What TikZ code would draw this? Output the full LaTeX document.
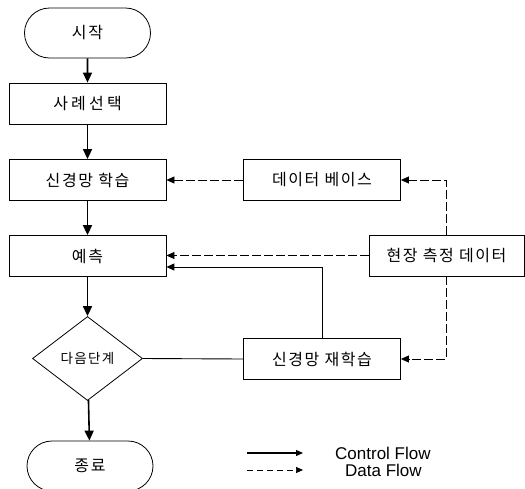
\documentclass[tikz,border=0pt]{standalone}
\usepackage{fontspec}
\setmainfont{Liberation Sans}
\newfontfamily\kr{Noto Sans CJK KR}[LetterSpace=10]
\newfontfamily\krw{Noto Sans CJK KR}[LetterSpace=20]
\usetikzlibrary{arrows.meta,shapes.geometric,shapes.misc}
\begin{document}
\begin{tikzpicture}[x=1pt,y=-1pt,
  krtext/.style={font=\kr\fontsize{16}{16}\selectfont},
  box/.style={draw,line width=0.8pt,minimum width=157pt,minimum height=41pt,inner sep=0pt,krtext},
  term/.style={draw,rounded rectangle,line width=0.8pt,minimum width=126pt,minimum height=50pt,inner sep=0pt,krtext},
  dia/.style={draw,diamond,line width=0.8pt,minimum width=110pt,minimum height=84pt,inner sep=0pt,font=\kr\fontsize{13.5}{13.5}\selectfont},
  ctrl/.style={line width=1.6pt,-{Triangle[length=10pt,width=9pt]}},
  data/.style={line width=0.7pt,dash pattern=on 9pt off 3pt,-{Triangle[length=8pt,width=7pt]}},
  ret/.style={line width=0.9pt,-{Triangle[length=8pt,width=7pt]}},
  plain/.style={line width=0.9pt},
  legctrl/.style={line width=1.2pt,-{Triangle[length=7pt,width=6pt]}},
  legdata/.style={line width=0.7pt,dash pattern=on 6pt off 4pt,-{Triangle[length=7pt,width=6pt]}},
  legtext/.style={anchor=west,inner sep=0pt,font=\fontsize{17}{17}\selectfont}]
\useasboundingbox (0,0) rectangle (525,488);
\clip (0,0) rectangle (525,488);
% left column
\node[term] (start) at (87.5,33) {시작};
\node[box] (s1) at (87.5,103.5) {\krw 사례선택};
\node[box] (s2) at (87.5,180) {신경망 학습};
\node[box] (s3) at (87.5,256) {예측};
\node[dia] (d) at (87.5,358.5) {다음단계};
\node[term] (fin) at (90,466) {종료};
% right column
\node[box] (db) at (322,180) {데이터 베이스};
\node[box] (re) at (322,359) {신경망 재학습};
\node[box,minimum width=155pt] (fd) at (446.5,255.5) {현장 측정 데이터};
% control flow
\draw[ctrl] (start) -- (s1);
\draw[ctrl] (s1) -- (s2);
\draw[ctrl] (s2) -- (s3);
\draw[ctrl] (s3) -- (d);
\draw[ctrl] (d) -- (fin);
\draw[plain] (d.east) -- (re.west);
\draw[ret] (re.north) |- ([yshift=-11pt]s3.east);
% data flow
\draw[data] (db) -- (s2);
\draw[data] (fd.west) -- (fd.west -| s3.east);
\draw[data] (fd.north) |- (db.east);
\draw[data] (fd.south) |- (re.east);
% legend
\coordinate (la) at (247,453);
\coordinate (lb) at (303,453);
\coordinate (lc) at (247,470);
\coordinate (ld) at (303,470);
\draw[legctrl] (la) -- (lb);
\draw[legdata] (lc) -- (ld);
\node[legtext] (lt1) at (335,453) {Control Flow};
\node[legtext] (lt2) at (345,470) {Data Flow};
\end{tikzpicture}
\end{document}
